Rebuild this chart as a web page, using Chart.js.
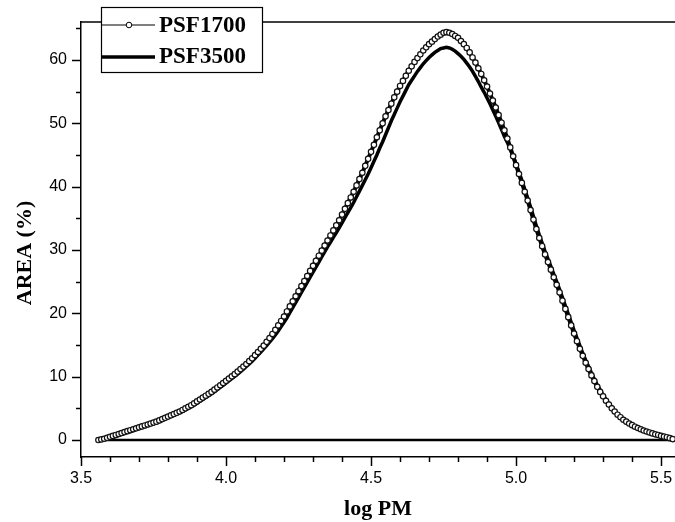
<!DOCTYPE html>
<html>
<head>
<meta charset="utf-8">
<script src="https://cdn.jsdelivr.net/npm/chart.js@4.4.1/dist/chart.umd.min.js"></script>
<style>
html,body{margin:0;padding:0;background:#fff;}
#wrap{width:675px;height:522px;position:relative;}
</style>
</head>
<body>
<div id="wrap"><canvas id="c" width="675" height="522"></canvas></div>
<script>
// log PM grid (x values)
const logPM = [
3.56,3.57,3.58,3.59,3.60,3.61,3.62,3.63,3.64,3.65,3.66,3.67,3.68,3.69,3.70,3.71,3.72,3.73,3.74,3.75,3.76,3.77,3.78,3.79,
3.80,3.81,3.82,3.83,3.84,3.85,3.86,3.87,3.88,3.89,3.90,3.91,3.92,3.93,3.94,3.95,3.96,3.97,3.98,3.99,
4.00,4.01,4.02,4.03,4.04,4.05,4.06,4.07,4.08,4.09,4.10,4.11,4.12,4.13,4.14,4.15,4.16,4.17,4.18,4.19,
4.20,4.21,4.22,4.23,4.24,4.25,4.26,4.27,4.28,4.29,4.30,4.31,4.32,4.33,4.34,4.35,4.36,4.37,4.38,4.39,
4.40,4.41,4.42,4.43,4.44,4.45,4.46,4.47,4.48,4.49,4.50,4.51,4.52,4.53,4.54,4.55,4.56,4.57,4.58,4.59,
4.60,4.61,4.62,4.63,4.64,4.65,4.66,4.67,4.68,4.69,4.70,4.71,4.72,4.73,4.74,4.75,4.76,4.77,4.78,4.79,
4.80,4.81,4.82,4.83,4.84,4.85,4.86,4.87,4.88,4.89,4.90,4.91,4.92,4.93,4.94,4.95,4.96,4.97,4.98,4.99,
5.00,5.01,5.02,5.03,5.04,5.05,5.06,5.07,5.08,5.09,5.10,5.11,5.12,5.13,5.14,5.15,5.16,5.17,5.18,5.19,
5.20,5.21,5.22,5.23,5.24,5.25,5.26,5.27,5.28,5.29,5.30,5.31,5.32,5.33,5.34,5.35,5.36,5.37,5.38,5.39,
5.40,5.41,5.42,5.43,5.44,5.45,5.46,5.47,5.48,5.49,5.50,5.51,5.52,5.53,5.54
];

// AREA (%) for PSF1700
const psf1700 = [
0.0,0.1,0.2,0.35,0.5,0.65,0.8,0.95,1.1,1.25,1.4,1.55,1.7,1.85,2.0,2.15,2.3,2.45,2.6,2.75,2.9,3.1,3.3,3.5,
3.7,3.9,4.1,4.3,4.5,4.75,5.0,5.25,5.5,5.8,6.1,6.4,6.7,7.0,7.3,7.6,7.95,8.3,8.65,9.0,
9.35,9.7,10.05,10.4,10.8,11.2,11.6,12.0,12.45,12.9,13.4,13.9,14.4,14.9,15.5,16.1,16.75,17.4,18.1,18.8,
19.5,20.3,21.1,21.9,22.7,23.5,24.3,25.1,25.9,26.7,27.5,28.3,29.1,29.9,30.7,31.5,32.3,33.1,33.9,34.7,
35.6,36.5,37.4,38.3,39.2,40.2,41.2,42.2,43.3,44.4,45.5,46.6,47.8,48.9,50.0,51.1,52.1,53.1,54.1,55.0,
55.9,56.7,57.5,58.3,59.0,59.7,60.3,60.9,61.5,62.0,62.5,62.9,63.3,63.7,64.0,64.3,64.4,64.3,64.1,63.8,
63.5,63.0,62.5,61.9,61.2,60.4,59.6,58.7,57.8,56.8,55.8,54.7,53.6,52.5,51.3,50.1,48.9,47.6,46.2,44.8,
43.4,42.0,40.6,39.2,37.8,36.3,34.8,33.3,31.9,30.6,29.3,28.1,26.9,25.7,24.5,23.3,22.0,20.7,19.4,18.1,
16.8,15.6,14.4,13.3,12.2,11.2,10.2,9.3,8.4,7.6,6.9,6.2,5.6,5.0,4.5,4.0,3.6,3.2,2.9,2.6,
2.35,2.1,1.9,1.7,1.5,1.35,1.2,1.05,0.9,0.8,0.65,0.55,0.45,0.3,0.15
];

// AREA (%) for PSF3500
const psf3500 = [
0.0,0.0,0.05,0.15,0.3,0.45,0.6,0.75,0.9,1.05,1.2,1.35,1.5,1.65,1.8,1.95,2.1,2.25,2.4,2.55,2.7,2.9,3.1,3.3,
3.5,3.7,3.9,4.1,4.3,4.5,4.75,5.0,5.25,5.5,5.8,6.1,6.4,6.7,7.0,7.3,7.6,7.95,8.3,8.65,
9.0,9.35,9.7,10.05,10.4,10.8,11.2,11.6,12.0,12.45,12.9,13.4,13.9,14.4,14.9,15.45,16.0,16.6,17.2,17.9,
18.6,19.3,20.1,20.9,21.7,22.5,23.3,24.1,24.9,25.7,26.5,27.3,28.1,28.9,29.7,30.5,31.2,32.0,32.7,33.5,
34.3,35.1,35.9,36.7,37.5,38.4,39.3,40.2,41.1,42.0,43.0,44.0,45.0,46.1,47.1,48.2,49.3,50.4,51.4,52.4,
53.4,54.3,55.2,56.1,56.8,57.5,58.2,58.8,59.4,59.9,60.4,60.8,61.2,61.5,61.8,61.9,62.0,61.9,61.7,61.4,
61.0,60.6,60.1,59.5,58.9,58.2,57.4,56.6,55.7,54.9,54.0,53.1,52.1,51.1,50.1,49.0,47.9,47.0,45.9,44.8,
43.6,42.3,41.0,39.6,38.2,36.8,35.3,33.8,32.4,31.1,29.8,28.6,27.4,26.2,25.0,23.8,22.5,21.2,19.9,18.6,
17.3,16.1,14.9,13.7,12.6,11.6,10.6,9.6,8.7,7.9,7.1,6.4,5.8,5.2,4.6,4.1,3.7,3.3,2.9,2.6,
2.35,2.1,1.9,1.7,1.5,1.35,1.2,1.05,0.9,0.8,0.65,0.55,0.45,0.3,0.15
];

// zero baseline
const baseX = [3.56, 5.56];
const baseY = [0, 0];

const seriesNames = ["PSF1700", "PSF3500"];
const xTickValues = [3.5, 4.0, 4.5, 5.0, 5.5];
const yTickValues = [0, 10, 20, 30, 40, 50, 60];
const xTitle = "log PM";
const yTitle = "AREA (%)";

const toPts = (xs, ys) => xs.map((x, i) => ({x: x, y: ys[i]}));

const frame = {
  id: 'frame',
  afterDraw(chart) {
    const ctx = chart.ctx;
    const ca = chart.chartArea;
    const xs = chart.scales.x, ys = chart.scales.y;
    ctx.save();
    ctx.strokeStyle = '#000';
    ctx.lineWidth = 1.5;
    // top line
    ctx.beginPath();
    ctx.moveTo(ca.left, ca.top); ctx.lineTo(chart.width, ca.top);
    ctx.stroke();
    // x ticks (major 0.5, minor 0.1)
    for (let i = 0; i <= 20; i++) {
      const v = 3.5 + i * 0.1;
      const px = Math.round(xs.getPixelForValue(v)) + 0.5;
      const len = (i % 5 === 0) ? 9 : 5;
      ctx.beginPath();
      ctx.moveTo(px, ca.bottom); ctx.lineTo(px, ca.bottom + len);
      ctx.stroke();
    }
    // y ticks (major 10, minor 5)
    for (let i = 0; i <= 13; i++) {
      const v = i * 5;
      const py = Math.round(ys.getPixelForValue(v)) + 0.5;
      const len = (i % 2 === 0) ? 9 : 5;
      ctx.beginPath();
      ctx.moveTo(ca.left, py); ctx.lineTo(ca.left - len, py);
      ctx.stroke();
    }
    // axis titles
    ctx.fillStyle = '#000';
    ctx.font = 'bold 22px "Liberation Serif", "Times New Roman", serif';
    ctx.textAlign = 'center';
    ctx.textBaseline = 'middle';
    ctx.fillText(xTitle, (ca.left + ca.right) / 2, 509);
    ctx.save();
    ctx.translate(25, 253);
    ctx.rotate(-Math.PI / 2);
    ctx.fillText(yTitle, 0, 0);
    ctx.restore();
    // legend
    const bx = 101, by = 7, bw = 161, bh = 65;
    ctx.fillStyle = '#fff';
    ctx.fillRect(bx, by, bw, bh);
    ctx.lineWidth = 1.2;
    ctx.strokeStyle = '#000';
    ctx.strokeRect(bx + 0.5, by + 0.5, bw, bh);
    // entry 1
    ctx.lineWidth = 1.2;
    ctx.beginPath(); ctx.moveTo(bx + 1, 25); ctx.lineTo(155, 25); ctx.stroke();
    ctx.beginPath(); ctx.arc(129, 25, 2.8, 0, Math.PI * 2);
    ctx.fillStyle = '#fff'; ctx.fill(); ctx.lineWidth = 1; ctx.stroke();
    // entry 2
    ctx.lineWidth = 3.5;
    ctx.beginPath(); ctx.moveTo(bx + 1, 57); ctx.lineTo(155, 57); ctx.stroke();
    ctx.fillStyle = '#000';
    ctx.font = 'bold 23px "Liberation Serif", "Times New Roman", serif';
    ctx.textAlign = 'left';
    ctx.textBaseline = 'middle';
    ctx.fillText(seriesNames[0], 159, 26);
    ctx.fillText(seriesNames[1], 159, 57);
    ctx.restore();
  }
};

new Chart(document.getElementById('c'), {
  type: 'scatter',
  data: {
    datasets: [
      {
        label: seriesNames[0],
        data: toPts(logPM, psf1700),
        showLine: true,
        borderColor: '#000',
        borderWidth: 4,
        pointRadius: 2.7,
        pointBorderWidth: 1.2,
        pointBackgroundColor: '#fff',
        pointBorderColor: '#111',
        pointHoverRadius: 2.7
      },
      {
        label: seriesNames[1],
        data: toPts(logPM, psf3500),
        showLine: true,
        borderColor: '#000',
        borderWidth: 3.5,
        pointRadius: 0
      },
      {
        label: 'baseline',
        data: toPts(baseX, baseY),
        showLine: true,
        borderColor: '#000',
        borderWidth: 2.5,
        pointRadius: 0
      }
    ]
  },
  options: {
    responsive: false,
    animation: false,
    events: [],
    layout: { autoPadding: false, padding: { top: 22, left: 0, right: 0, bottom: 0 } },
    plugins: { legend: { display: false }, tooltip: { enabled: false } },
    scales: {
      x: {
        type: 'linear',
        min: 3.5, max: 5.548,
        afterBuildTicks: (s) => { s.ticks = xTickValues.map(v => ({value: v})); },
        afterFit: (s) => { s.height = 65; s.paddingLeft = 0; s.paddingRight = 0; },
        grid: { display: false, drawTicks: false },
        border: { display: true, color: '#000', width: 1.5 },
        ticks: {
          padding: 12,
          color: '#000',
          font: { family: '"Liberation Sans", Arial, sans-serif', size: 16 },
          maxRotation: 0,
          callback: (v) => Number(v).toFixed(1)
        }
      },
      y: {
        type: 'linear',
        min: -2.68, max: 66.0,
        afterBuildTicks: (s) => { s.ticks = yTickValues.map(v => ({value: v})); },
        afterFit: (s) => { s.width = 81; s.paddingTop = 0; s.paddingBottom = 0; },
        grid: { display: false, drawTicks: false },
        border: { display: true, color: '#000', width: 1.5 },
        ticks: {
          padding: 14,
          color: '#000',
          font: { family: '"Liberation Sans", Arial, sans-serif', size: 16 },
          callback: (v) => String(v)
        }
      }
    }
  },
  plugins: [frame]
});
</script>
</body>
</html>
